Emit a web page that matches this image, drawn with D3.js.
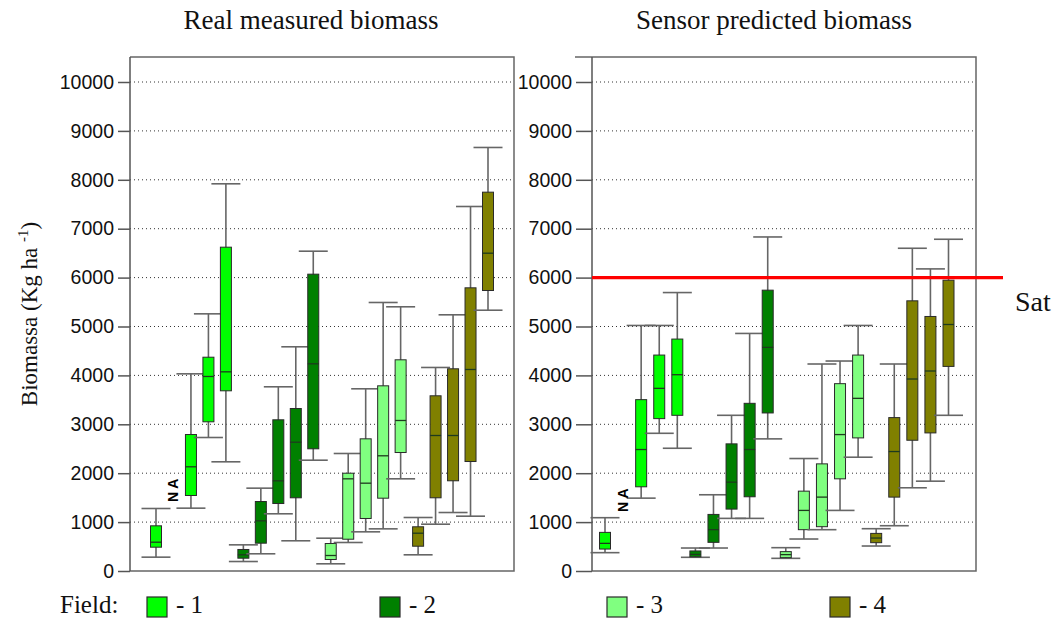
<!DOCTYPE html>
<html>
<head>
<meta charset="utf-8">
<script src="https://cdn.jsdelivr.net/npm/d3@7"></script>
<style>
  body { margin:0; background:#fff; }
  svg { display:block; }
  .tick text { font-family:"Liberation Sans", Arial, sans-serif; font-size:19.5px; fill:#111; }
  .serif { font-family:"Liberation Serif", "Times New Roman", serif; fill:#111; }
</style>
</head>
<body>
<script>
// 20 slots per panel: 5 dates x 4 fields, slot 2 of field 1 is N A
const fields = ['1','2','3','4']
const fieldColors = ['#00ff00','#008000','#80ff80','#808000']
const slotField = [0,0,0,0,0, 1,1,1,1,1, 2,2,2,2,2, 3,3,3,3,3]
const yTicks = [0,1000,2000,3000,4000,5000,6000,7000,8000,9000,10000]

// Real measured biomass
const realLow  = [283,null,1285,2730,2233, 194,352,1170,618,2266, 147,583,801,862,1885, 331,957,1196,1121,5333]
const realQ1   = [487,null,1544,3051,3685, 262,569,1380,1497,2499, 235,650,1074,1489,2423, 507,1497,1845,2239,5736]
const realMed  = [589,null,2131,3978,4073, 331,1026,1844,2634,4237, 317,1885,1796,2356,3078, 773,2771,2771,4121,6499]
const realQ3   = [924,null,2791,4372,6622, 440,1421,3092,3323,6070, 562,2000,2703,3787,4319, 904,3583,4135,5791,7747]
const realHigh = [1278,null,4032,5259,7918, 535,1694,3767,4585,6540, 671,2403,3726,5491,5403, 1094,4162,5239,7454,8661]

// Sensor predicted biomass
const sensLow  = [375,null,1490,2816,2510, 280,470,1076,1076,2702, 259,654,845,1239,2327, 511,926,1702,1837,3184]
const sensQ1   = [449,null,1722,3116,3184, 290,586,1266,1518,3232, 273,845,906,1885,2722, 579,1511,2674,2824,4184]
const sensMed  = [565,null,2484,3735,4014, 340,845,1817,2484,4573, 335,1239,1511,2790,3531, 674,2443,3926,4090,5041]
const sensQ3   = [790,null,3504,4416,4743, 410,1157,2600,3429,5743, 396,1633,2191,3831,4416, 769,3137,5525,5205,5947]
const sensHigh = [1090,null,5021,5021,5694, 470,1559,3184,4858,6831, 477,2300,4233,4294,5021, 865,4233,6600,6178,6784]

const saturation = 6000

const svg = d3.select('body').append('svg').attr('width',1056).attr('height',622)
const y = d3.scaleLinear().domain([0,10000]).range([571,82])

const panels = [
  { title:'Real measured biomass', tx:311, axisX:130, right:514, frameLeft:130, slots:[156,488], naVal:1650,
    low:realLow, q1:realQ1, med:realMed, q3:realQ3, high:realHigh },
  { title:'Sensor predicted biomass', tx:774, axisX:592, right:976, frameLeft:575, slots:[605,948.5], naVal:1450,
    low:sensLow, q1:sensQ1, med:sensMed, q3:sensQ3, high:sensHigh }
]

function drawPanel(p){
  const x = d3.scalePoint().domain(d3.range(20)).range(p.slots)
  const g = svg.append('g')

  g.append('text').classed('serif',true)
    .attr('x',p.tx).attr('y',29).attr('text-anchor','middle')
    .style('font-size','27px').text(p.title)

  // dotted grid
  g.append('g').selectAll('line').data(yTicks.filter(d => d>0)).enter().append('line')
    .attr('x1',p.axisX).attr('x2',p.right-3)
    .attr('y1',d => y(d)).attr('y2',d => y(d))
    .attr('stroke','#333').attr('stroke-width',1).attr('stroke-dasharray','1,3')

  // frame
  g.append('path')
    .attr('d',`M${p.frameLeft},57 H${p.right} V${y(0)} H${p.axisX}`)
    .attr('fill','none').attr('stroke','#666').attr('stroke-width',1.5)

  const ax = g.append('g').attr('transform',`translate(${p.axisX},0)`)
    .call(d3.axisLeft(y).tickValues(yTicks).tickFormat(d3.format('d'))
      .tickSize(p.axisX==130 ? 12 : 16).tickSizeOuter(0).tickPadding(4))
  ax.select('.domain').attr('stroke','#555').attr('stroke-width',1.5).attr('d',`M0,57V${y(0)}`)
  ax.selectAll('.tick line').attr('stroke','#555').attr('stroke-width',1.5)

  const idx = d3.range(20).filter(i => p.low[i] != null)
  const boxes = g.append('g').selectAll('g').data(idx).enter().append('g')

  boxes.append('line')
    .attr('x1',i => x(i)).attr('x2',i => x(i))
    .attr('y1',i => y(p.high[i])).attr('y2',i => y(p.low[i]))
    .attr('stroke','#666').attr('stroke-width',1.6)
  ;['high','low'].forEach(k => {
    boxes.append('line')
      .attr('x1',i => x(i)-14.5).attr('x2',i => x(i)+14.5)
      .attr('y1',i => y(p[k][i])).attr('y2',i => y(p[k][i]))
      .attr('stroke','#666').attr('stroke-width',1.6)
  })
  boxes.append('rect')
    .attr('x',i => x(i)-5.5).attr('width',11)
    .attr('y',i => y(p.q3[i])).attr('height',i => y(p.q1[i])-y(p.q3[i]))
    .attr('fill',i => fieldColors[slotField[i]])
    .attr('stroke','#2a2a2a').attr('stroke-width',1)
  boxes.append('line')
    .attr('x1',i => x(i)-5.5).attr('x2',i => x(i)+5.5)
    .attr('y1',i => y(p.med[i])).attr('y2',i => y(p.med[i]))
    .attr('stroke','#1e3a1e').attr('stroke-width',1.3)

  // N A marker for missing slot
  d3.range(20).filter(i => p.low[i] == null).forEach(i => {
    g.append('text')
      .attr('transform',`translate(${x(i)+5},${y(p.naVal)}) rotate(-90)`)
      .attr('text-anchor','middle')
      .style('font-family','"Liberation Sans", Arial, sans-serif')
      .style('font-size','14px').style('font-weight','bold')
      .text('N A')
  })
}

panels.forEach(drawPanel)

// saturation line
svg.append('line')
  .attr('x1',592).attr('x2',1003)
  .attr('y1',y(saturation)).attr('y2',y(saturation))
  .attr('stroke','#ff0000').attr('stroke-width',3.2)
svg.append('text').classed('serif',true)
  .attr('x',1015).attr('y',y(saturation)+33)
  .style('font-size','28px').text('Sat')

// y label
const yl = svg.append('text').classed('serif',true)
  .attr('transform','translate(37,314) rotate(-90)')
  .attr('text-anchor','middle').style('font-size','23px')
yl.append('tspan').text('Biomassa (Kg ha ')
yl.append('tspan').attr('dy',-9).style('font-size','15px').text('-1')
yl.append('tspan').attr('dy',9).text(')')

// legend
svg.append('text').classed('serif',true)
  .attr('x',60).attr('y',613).style('font-size','25px').text('Field:')
const legX = [147,380,607,830]
const leg = svg.append('g').selectAll('g').data(fields).enter().append('g')
  .attr('transform',(d,i) => `translate(${legX[i]},597)`)
leg.append('rect').attr('width',20).attr('height',20)
  .attr('fill',(d,i) => fieldColors[i]).attr('stroke','#2a2a2a').attr('stroke-width',1.2)
leg.append('text').classed('serif',true)
  .attr('x',29).attr('y',16).style('font-size','25px')
  .text(d => '- ' + d)
</script>
</body>
</html>
